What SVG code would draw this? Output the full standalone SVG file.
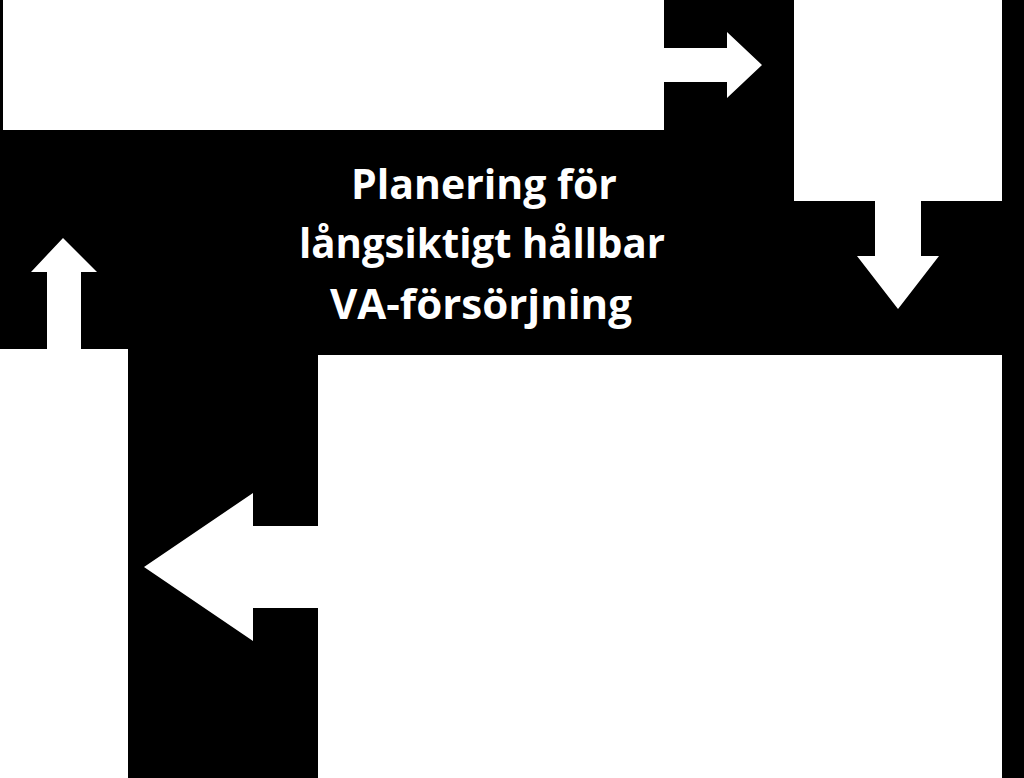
<svg xmlns="http://www.w3.org/2000/svg" width="1024" height="778" viewBox="0 0 1024 778">
<style>
.box{fill:#ffffff}
.arr{fill:#ffffff}
.t{font-family:"Open Sans","Liberation Sans",sans-serif;font-weight:700;font-size:41px;fill:#ffffff;text-anchor:middle}
</style>
<rect x="0" y="0" width="1024" height="778" fill="#000000"/>
<g id="node-top-left"><rect class="box" x="3" y="0" width="661" height="130"/></g>
<g id="node-top-right"><rect class="box" x="794" y="0" width="208" height="201"/></g>
<g id="node-bottom-right"><rect class="box" x="318" y="355" width="684" height="423"/></g>
<g id="node-left"><rect class="box" x="0" y="349" width="128" height="429"/></g>
<g id="connectors">
<polygon class="arr" points="664,48 727,48 727,32 762,65 727,98 727,82 664,82"/>
<polygon class="arr" points="875,201 921,201 921,256 939,256 898,309 857,256 875,256"/>
<polygon class="arr" points="318,526 253,526 253,493 144,567 253,641 253,608 318,608"/>
<polygon class="arr" points="47,349 47,272 31,272 63,238 97,272 81,272 81,349"/>
</g>
<g id="title">
<text class="t" x="484" y="199" textLength="266" lengthAdjust="spacingAndGlyphs">Planering för</text>
<text class="t" x="482" y="258" textLength="366" lengthAdjust="spacingAndGlyphs">långsiktigt hållbar</text>
<text class="t" x="481" y="319" textLength="302" lengthAdjust="spacingAndGlyphs">VA-försörjning</text>
</g>
</svg>
